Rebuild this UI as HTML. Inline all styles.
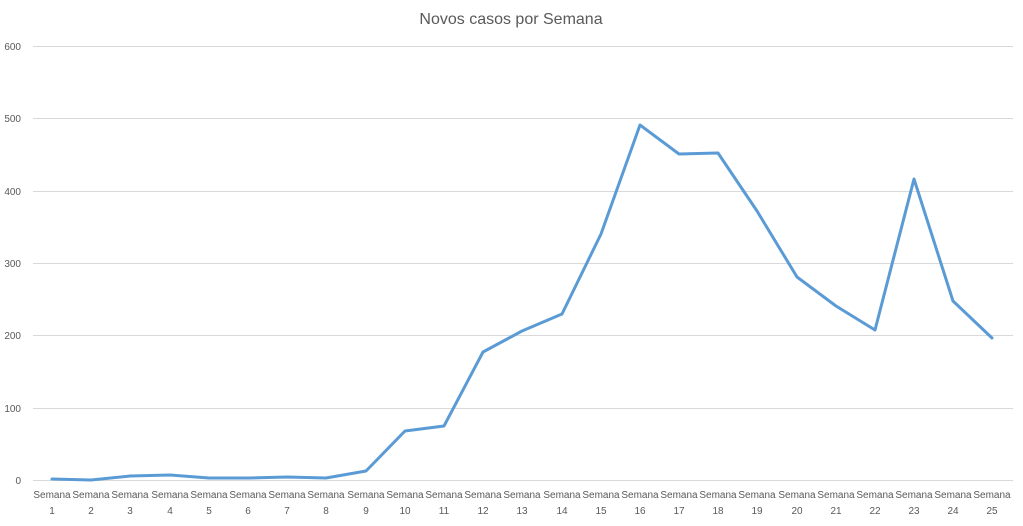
<!DOCTYPE html>
<html><head><meta charset="utf-8"><style>
body{margin:0;background:#fff;}
svg{display:block;font-family:"Liberation Sans",Calibri,sans-serif;}
</style></head><body>
<svg width="1023" height="526" viewBox="0 0 1023 526">
<text x="511" y="24" text-anchor="middle" font-size="16" fill="#595959">Novos casos por Semana</text>
<g stroke="#d9d9d9" stroke-width="1">
<line x1="33" x2="1013" y1="46.5" y2="46.5"/>
<line x1="33" x2="1013" y1="118.5" y2="118.5"/>
<line x1="33" x2="1013" y1="191.5" y2="191.5"/>
<line x1="33" x2="1013" y1="263.5" y2="263.5"/>
<line x1="33" x2="1013" y1="335.5" y2="335.5"/>
<line x1="33" x2="1013" y1="408.5" y2="408.5"/>
<line x1="33" x2="1013" y1="480.5" y2="480.5"/>
</g>
<g font-size="10" fill="#595959" text-anchor="end">
<text x="21" y="50">600</text><text x="21" y="122">500</text><text x="21" y="195">400</text>
<text x="21" y="267">300</text><text x="21" y="339">200</text><text x="21" y="412">100</text>
<text x="21" y="484">0</text>
</g>
<g font-size="10" fill="#595959" text-anchor="middle">
<text x="52" y="498">Semana</text><text x="52" y="514">1</text>
<text x="91" y="498">Semana</text><text x="91" y="514">2</text>
<text x="130" y="498">Semana</text><text x="130" y="514">3</text>
<text x="170" y="498">Semana</text><text x="170" y="514">4</text>
<text x="209" y="498">Semana</text><text x="209" y="514">5</text>
<text x="248" y="498">Semana</text><text x="248" y="514">6</text>
<text x="287" y="498">Semana</text><text x="287" y="514">7</text>
<text x="326" y="498">Semana</text><text x="326" y="514">8</text>
<text x="366" y="498">Semana</text><text x="366" y="514">9</text>
<text x="405" y="498">Semana</text><text x="405" y="514">10</text>
<text x="444" y="498">Semana</text><text x="444" y="514">11</text>
<text x="483" y="498">Semana</text><text x="483" y="514">12</text>
<text x="522" y="498">Semana</text><text x="522" y="514">13</text>
<text x="562" y="498">Semana</text><text x="562" y="514">14</text>
<text x="601" y="498">Semana</text><text x="601" y="514">15</text>
<text x="640" y="498">Semana</text><text x="640" y="514">16</text>
<text x="679" y="498">Semana</text><text x="679" y="514">17</text>
<text x="718" y="498">Semana</text><text x="718" y="514">18</text>
<text x="757" y="498">Semana</text><text x="757" y="514">19</text>
<text x="797" y="498">Semana</text><text x="797" y="514">20</text>
<text x="836" y="498">Semana</text><text x="836" y="514">21</text>
<text x="875" y="498">Semana</text><text x="875" y="514">22</text>
<text x="914" y="498">Semana</text><text x="914" y="514">23</text>
<text x="953" y="498">Semana</text><text x="953" y="514">24</text>
<text x="992" y="498">Semana</text><text x="992" y="514">25</text>
</g>
<polyline fill="none" stroke="#5b9bd5" stroke-width="3" stroke-linejoin="round" stroke-linecap="round" points="52,479 91,480 130,476 170,475 209,478 248,478 287,477 326,478 366,471 405,431 444,426 483,352 522,331 562,314 601,234 640,125 679,154 718,153 757,211 797,277 836,306 875,330 914,179 953,301 992,338"/>
</svg>
</body></html>
